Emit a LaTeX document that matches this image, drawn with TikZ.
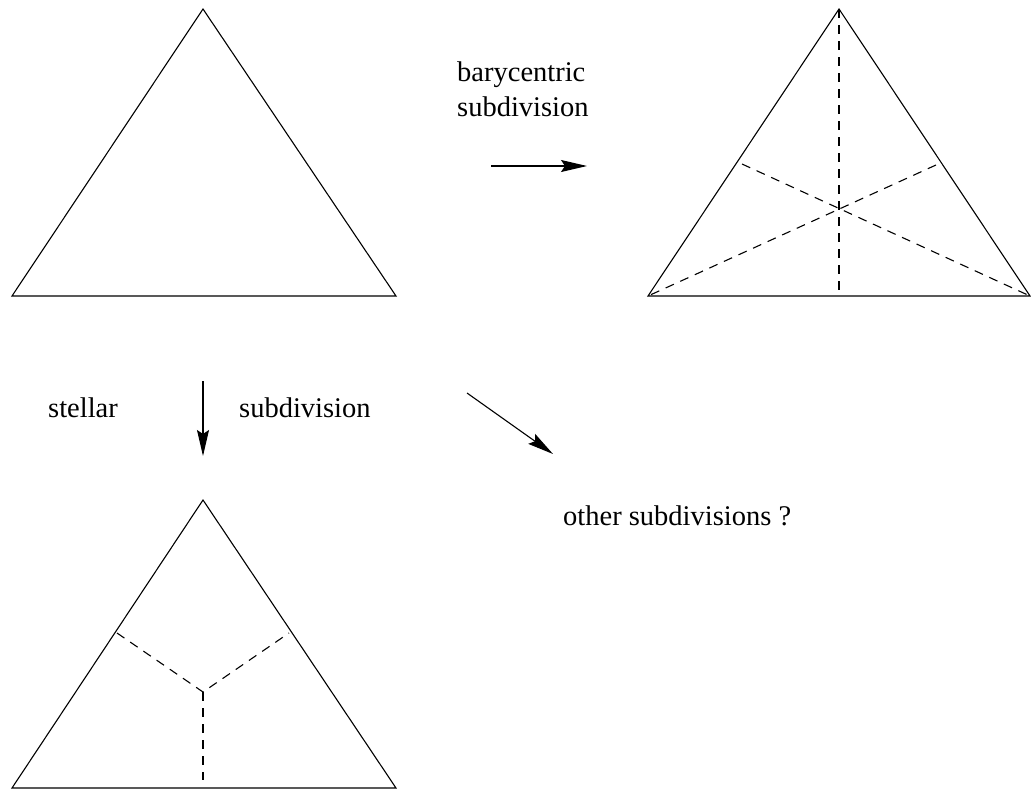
\documentclass[tikz,border=0pt]{standalone}
\usepackage{fontspec}
\setmainfont{Liberation Serif}
\usetikzlibrary{arrows.meta}
\begin{document}
\begin{tikzpicture}[x=1pt,y=-1pt,
  edge/.style={line width=1.1pt},
  dsh/.style={line width=1.1pt, dash pattern=on 9pt off 7pt},
  arr/.style={line width=1.1pt,-{Stealth[length=26pt,width=12pt,inset=4pt]}},
  lbl/.style={anchor=base west, inner sep=0pt, font=\fontsize{28.5}{33}\selectfont}]
\useasboundingbox (0,0) rectangle (1031,790);
% triangle 1
\coordinate (a1) at (203,9);
\coordinate (b1) at (12,296);
\coordinate (c1) at (396,296);
\draw[edge] (a1) -- (b1) -- (c1) -- cycle;
% triangle 2
\coordinate (a2) at (839,9);
\coordinate (b2) at (648,296);
\coordinate (c2) at (1030,296);
\coordinate (m2l) at (742,164);
\coordinate (m2r) at (936,165);
\coordinate (m2b) at (839,290);
\draw[edge] (a2) -- (b2) -- (c2) -- cycle;
\draw[dsh] (a2) -- (m2b);
\draw[dsh] (m2l) -- (c2);
\draw[dsh] (m2r) -- (b2);
% triangle 3
\coordinate (a3) at (203,500);
\coordinate (b3) at (12,788);
\coordinate (c3) at (396,788);
\coordinate (o3) at (203,692);
\coordinate (m3l) at (117,633);
\coordinate (m3r) at (289,633);
\coordinate (m3b) at (203,780);
\draw[edge] (a3) -- (b3) -- (c3) -- cycle;
\draw[dsh] (m3l) -- (o3) -- (m3r);
\draw[dsh] (o3) -- (m3b);
% arrows
\coordinate (h1) at (491,166);
\coordinate (h2) at (587,166);
\draw[arr] (h1) -- (h2);
\coordinate (v1) at (203,381);
\coordinate (v2) at (203,456);
\draw[arr] (v1) -- (v2);
\coordinate (d1) at (467,393);
\coordinate (d2) at (553,454);
\draw[arr] (d1) -- (d2);
% labels
\node[lbl] (t1) at (457,81) {barycentric};
\node[lbl] (t2) at (457,116) {subdivision};
\node[lbl] (t3) at (48,417) {stellar};
\node[lbl] (t4) at (239,417) {subdivision};
\node[lbl] (t5) at (563,525) {other subdivisions ?};
\end{tikzpicture}
\end{document}
